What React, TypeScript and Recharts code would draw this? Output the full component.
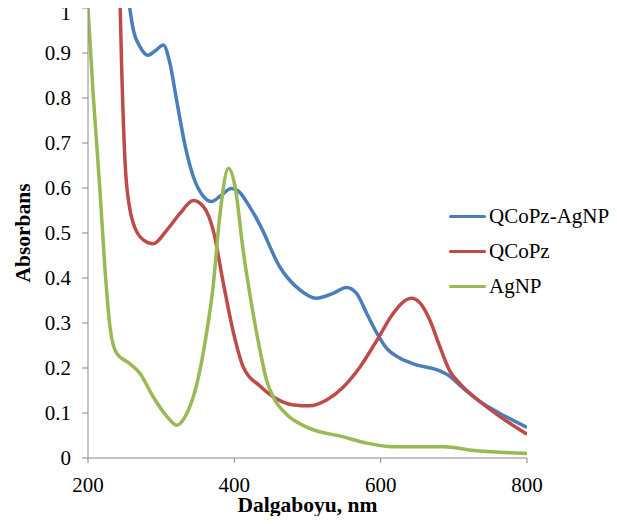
import React from 'react';
import { LineChart, Line, XAxis, YAxis, Legend } from 'recharts';

// [wavelength nm, absorbance]
const qcopzAgnp: [number, number][] = [
  [257, 1.0], [262, 0.951], [271, 0.914], [282, 0.895], [292, 0.905], [303, 0.918],
  [312, 0.877], [321, 0.796], [333, 0.692], [344, 0.625], [358, 0.581], [369, 0.57],
  [380, 0.581], [396, 0.599], [405, 0.594], [421, 0.558], [435, 0.518], [462, 0.425],
  [490, 0.373], [512, 0.355], [535, 0.366], [553, 0.379], [567, 0.366], [581, 0.321],
  [595, 0.277], [608, 0.244], [626, 0.222], [649, 0.207], [677, 0.196], [695, 0.181],
  [708, 0.162], [736, 0.125], [763, 0.099], [800, 0.068],
];

const qcopz: [number, number][] = [
  [244, 1.0], [246, 0.87], [251, 0.647], [256, 0.565], [262, 0.521], [276, 0.484],
  [289, 0.476], [308, 0.507], [326, 0.544], [344, 0.572], [358, 0.558], [371, 0.507],
  [385, 0.388], [399, 0.277], [412, 0.203], [435, 0.16], [453, 0.136], [481, 0.118],
  [503, 0.116], [526, 0.129], [549, 0.158], [572, 0.203], [595, 0.262], [617, 0.321],
  [631, 0.347], [642, 0.355], [654, 0.344], [667, 0.307], [681, 0.247], [695, 0.192],
  [708, 0.166], [736, 0.125], [763, 0.092], [800, 0.053],
];

const agnp: [number, number][] = [
  [200, 1.0], [207, 0.81], [216, 0.603], [223, 0.425], [230, 0.292], [239, 0.233],
  [257, 0.21], [271, 0.188], [289, 0.136], [308, 0.092], [321, 0.073], [335, 0.099],
  [349, 0.166], [362, 0.277], [371, 0.381], [380, 0.536], [392, 0.644], [401, 0.603],
  [412, 0.462], [421, 0.366], [435, 0.24], [444, 0.173], [453, 0.136], [472, 0.096],
  [503, 0.066], [549, 0.047], [581, 0.033], [617, 0.025], [686, 0.025], [731, 0.016],
  [800, 0.01],
];

const xTicks = [200, 400, 600, 800];
const yTicks = [0, 0.1, 0.2, 0.3, 0.4, 0.5, 0.6, 0.7, 0.8, 0.9, 1];

const series = [
  { name: 'QCoPz-AgNP', points: qcopzAgnp, color: '#4a7ebb' },
  { name: 'QCoPz', points: qcopz, color: '#be4b48' },
  { name: 'AgNP', points: agnp, color: '#98b954' },
];

const FONT = 'Liberation Serif, DejaVu Serif, serif';
const AXIS = '#898989';

// legend in the same order as the reference, not the payload order
const LegendBox = () => (
  <div style={{ fontFamily: FONT, fontSize: 21, color: '#000', whiteSpace: 'nowrap' }}>
    {series.map((s) => (
      <div key={s.name} style={{ display: 'flex', alignItems: 'center', height: 35 }}>
        <div style={{ width: 37, height: 3.5, background: s.color, borderRadius: 2, marginRight: 3 }} />
        <span>{s.name}</span>
      </div>
    ))}
  </div>
);

const XTitle = (props: any) => {
  const vb = props.viewBox || {};
  return (
    <text
      x={vb.x + vb.width / 2}
      y={vb.y + 54}
      textAnchor="middle"
      style={{ fill: '#000', fontSize: 21.5, fontWeight: 'bold', fontFamily: FONT }}
    >
      Dalgaboyu, nm
    </text>
  );
};

export default function App() {
  return (
    <div style={{ margin: -8, width: 617, height: 524, background: '#fff', position: 'relative' }}>
      <LineChart width={617} height={524} margin={{ top: 8, right: 90, bottom: 8, left: 18 }}>
        <XAxis
          type="number"
          dataKey="x"
          domain={[200, 800]}
          ticks={xTicks}
          allowDataOverflow
          height={58}
          stroke={AXIS}
          tickSize={5}
          tickMargin={14}
          tick={{ fill: '#000', fontSize: 21, fontFamily: FONT }}
          label={<XTitle />}
        />
        <YAxis
          type="number"
          domain={[0, 1]}
          ticks={yTicks}
          allowDataOverflow
          width={70}
          stroke={AXIS}
          tickSize={6}
          tickMargin={11}
          tick={{ fill: '#000', fontSize: 21, fontFamily: FONT }}
          label={{
            value: 'Absorbans',
            angle: -90,
            position: 'insideLeft',
            offset: 4,
            style: { textAnchor: 'middle', fill: '#000', fontSize: 21.5, fontWeight: 'bold', fontFamily: FONT },
          }}
        />
        <Legend
          layout="vertical"
          align="center"
          verticalAlign="middle"
          wrapperStyle={{ left: 449, top: 199, width: 168 }}
          content={<LegendBox />}
        />
        {series.map((s) => (
          <Line
            key={s.name}
            name={s.name}
            data={s.points.map(([x, y]) => ({ x, y }))}
            dataKey="y"
            type="monotone"
            stroke={s.color}
            strokeWidth={3.5}
            dot={false}
            isAnimationActive={false}
          />
        ))}
      </LineChart>
    </div>
  );
}
